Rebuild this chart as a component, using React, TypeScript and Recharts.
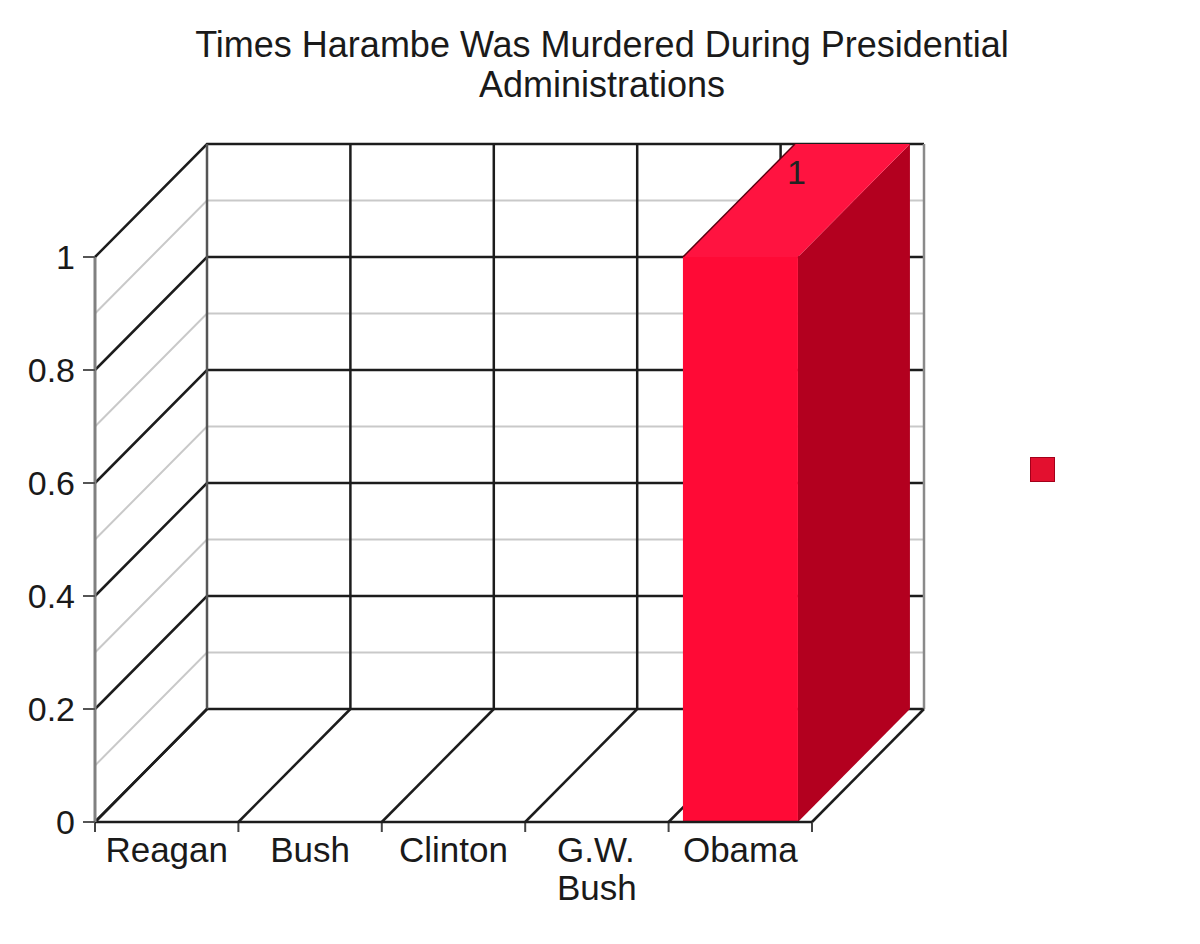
import { BarChart, Bar, XAxis, YAxis, ReferenceLine, LabelList, Legend } from 'recharts'

// chart values
const presidents = ['Reagan', 'Bush', 'Clinton', 'G.W. Bush', 'Obama']
const timesMurdered = [0, 0, 0, 0, 1]
const yTicks = [0, 0.2, 0.4, 0.6, 0.8, 1]
const minorLevels = [0.1, 0.3, 0.5, 0.7, 0.9]

const data = presidents.map((name, i) => ({ name, times: timesMurdered[i] }))

// depth of the fake 3d box, in pixels
const DX = 112
const DY = 113
const FONT = '"Liberation Sans", Arial, Helvetica, sans-serif'
const LABEL_SIZE = 35

const FRONT = '#ff0a36'
const SIDE = '#b3001f'
const TOP = '#ff1340'

// left wall diagonal + back wall horizontal for one y level
function levelLine(major: boolean) {
  return (p: any) => {
    const { x1, y1, x2, y2 } = p
    return (
      <path
        d={`M${x1},${y1}L${x1 + DX},${y1 - DY}L${x2 + DX},${y2 - DY}`}
        fill="none"
        stroke={major ? '#1c1c1c' : '#c9c9c9'}
        strokeWidth={major ? 2.5 : 2}
      />
    )
  }
}

// back wall vertical, floor diagonal and tick for one category edge
function edgeLine(kind: 'first' | 'mid' | 'last') {
  return (p: any) => {
    const top = Math.min(p.y1, p.y2)
    const bottom = Math.max(p.y1, p.y2)
    const x = p.x1
    const wallColor = kind === 'first' ? '#555' : kind === 'last' ? '#8a8a8a' : '#1c1c1c'
    return (
      <g>
        <line x1={x + DX} y1={top - DY} x2={x + DX} y2={bottom - DY} stroke={wallColor} strokeWidth={2.5} />
        <line x1={x} y1={bottom} x2={x + DX} y2={bottom - DY} stroke="#1c1c1c" strokeWidth={2.5} />
        <line x1={x} y1={bottom} x2={x} y2={bottom + 10} stroke="#444" strokeWidth={2} />
      </g>
    )
  }
}

function Bar3D(p: any) {
  const { x, y, width, height } = p
  if (!height || height <= 0) return <g />
  const r = x + width
  const b = y + height
  return (
    <g>
      <polygon points={`${r},${y} ${r + DX},${y - DY} ${r + DX},${b - DY} ${r},${b}`} fill={SIDE} />
      <polygon points={`${x},${y} ${x + DX},${y - DY} ${r + DX},${y - DY} ${r},${y}`} fill={TOP} />
      <line x1={x} y1={y} x2={x + DX} y2={y - DY} stroke="#5a0010" strokeWidth={1.5} />
      <rect x={x} y={y} width={width} height={height} fill={FRONT} />
    </g>
  )
}

// long names go on two lines, left aligned inside a centred block
function PresidentTick({ x, y, payload }: any) {
  const label: string = payload.value
  const lines = label.length > 8 ? label.split(' ') : [label]
  const blockW = Math.max(...lines.map((l) => l.length)) * LABEL_SIZE * 0.57
  const multi = lines.length > 1
  return (
    <text
      x={multi ? x - blockW / 2 : x}
      y={y + 38}
      textAnchor={multi ? 'start' : 'middle'}
      fontSize={LABEL_SIZE}
      fill="#1a1a1a"
      style={{ fontFamily: FONT }}
    >
      {lines.map((l, i) => (
        <tspan key={l} x={multi ? x - blockW / 2 : x} dy={i === 0 ? 0 : 38}>
          {l}
        </tspan>
      ))}
    </text>
  )
}

function TopLabel(p: any) {
  const { x, y, width, value } = p
  if (!value) return null
  return (
    <text x={x + width / 2 + DX / 2} y={y - DY + 40} textAnchor="middle" fontSize={34} fill="#222" style={{ fontFamily: FONT }}>
      {value}
    </text>
  )
}

export default function App() {
  return (
    <div style={{ position: 'absolute', left: 0, top: 0, width: 1200, height: 944, background: '#fff', fontFamily: FONT }}>
      <div
        style={{
          position: 'absolute',
          left: 0,
          top: 25,
          width: 1204,
          textAlign: 'center',
          fontSize: 36,
          lineHeight: '40px',
          color: '#1a1a1a',
        }}
      >
        Times Harambe Was Murdered During Presidential
        <br />
        Administrations
      </div>
      <BarChart
        width={1200}
        height={944}
        data={data}
        margin={{ top: 257, right: 362, bottom: 0, left: 0 }}
        barCategoryGap="10%"
        style={{ fontFamily: FONT }}
      >
        <XAxis
          dataKey="name"
          height={122}
          interval={0}
          tickLine={false}
          tickSize={0}
          axisLine={{ stroke: '#1c1c1c', strokeWidth: 2.5 }}
          tick={<PresidentTick />}
        />
        <YAxis
          width={95}
          domain={[0, 1]}
          ticks={yTicks}
          interval={0}
          tickSize={12}
          tickMargin={8}
          tick={{ fontSize: 34, fill: '#1a1a1a' }}
          tickLine={{ stroke: '#555', strokeWidth: 2 }}
          axisLine={{ stroke: '#808080', strokeWidth: 3 }}
        />
        {minorLevels.map((v) => (
          <ReferenceLine key={`m${v}`} y={v} zIndex={-100} shape={levelLine(false)} />
        ))}
        {yTicks.map((v) => (
          <ReferenceLine key={`M${v}`} y={v} zIndex={-100} shape={levelLine(true)} />
        ))}
        {presidents.map((name, i) => (
          <ReferenceLine key={`s${name}`} x={name} position="start" zIndex={-100} shape={edgeLine(i === 0 ? 'first' : 'mid')} />
        ))}
        <ReferenceLine
          x={presidents[presidents.length - 1]}
          position="end"
          zIndex={-100}
          shape={edgeLine('last')}
        />
        <Legend
          layout="horizontal"
          verticalAlign="middle"
          align="right"
          wrapperStyle={{ left: 1030, top: 457, width: 26, height: 26 }}
          content={() => (
            <div style={{ width: 25, height: 25, background: '#e3102f', border: '1px solid #a3001a', boxSizing: 'border-box' }} />
          )}
        />
        <Bar dataKey="times" name="Times" shape={<Bar3D />} isAnimationActive={false}>
          <LabelList dataKey="times" content={<TopLabel />} />
        </Bar>
      </BarChart>
    </div>
  )
}
